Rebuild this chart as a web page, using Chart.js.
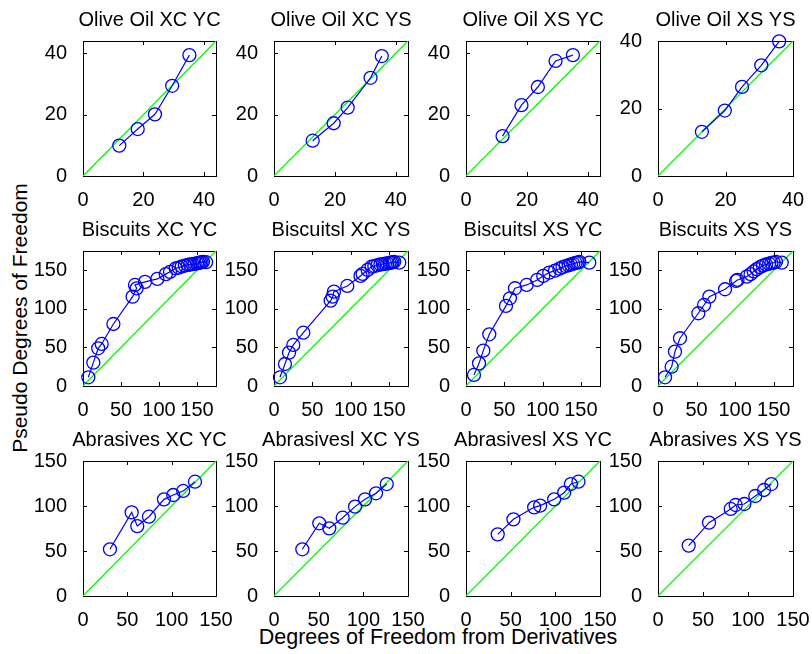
<!DOCTYPE html>
<html>
<head>
<meta charset="utf-8">
<script src="https://cdn.jsdelivr.net/npm/chart.js@4.4.0/dist/chart.umd.min.js"></script>
<style>
  body { margin: 0; background: #fff; }
  #fig { position: relative; width: 812px; height: 654px; background: #fff; overflow: hidden; }
  #fig canvas { position: absolute; }
  .lbl { position: absolute; font-family: 'Liberation Sans', Arial, sans-serif; color: #000; white-space: nowrap; }
</style>
</head>
<body>
<div id="fig">
  <div class="lbl" id="ylab" style="font-size:21px">Pseudo Degrees of Freedom</div>
  <div class="lbl" id="xlab" style="font-size:21.5px">Degrees of Freedom from Derivatives</div>
</div>
<script>
// panel titles
var titles = [
  'Olive Oil XC YC', 'Olive Oil XC YS', 'Olive Oil XS YC', 'Olive Oil XS YS',
  'Biscuits XC YC', 'Biscuitsl XC YS', 'Biscuitsl XS YC', 'Biscuits XS YS',
  'Abrasives XC YC', 'Abrasivesl XC YS', 'Abrasivesl XS YC', 'Abrasives XS YS'
];

// tick labels
var oliveTicks = [0, 20, 40];
var biscTicks = [0, 50, 100, 150];
var abrTicks = [0, 50, 100, 150];

// olive oil
var oliveXCYC_x = [12.0, 18.1, 23.8, 29.5, 35.2];
var oliveXCYC_y = [9.9, 15.3, 20.1, 29.4, 39.4];
var oliveXCYS_x = [12.7, 19.6, 24.2, 31.7, 35.4];
var oliveXCYS_y = [11.5, 17.2, 22.3, 32.0, 39.1];
var oliveXSYC_x = [12.0, 18.2, 23.6, 29.4, 35.1];
var oliveXSYC_y = [13.0, 23.1, 29.0, 37.5, 39.4];
var oliveXSYS_x = [13.0, 19.8, 24.9, 30.6, 35.9];
var oliveXSYS_y = [13.1, 19.4, 26.4, 32.8, 39.9];

// biscuits
var biscXCYC_x = [7, 13.6, 20, 24.6, 40, 65.3, 70.6, 68.4, 81.6, 97.8, 109, 114.5, 122, 126, 130, 134, 138, 141, 144, 147, 150, 152, 154, 156, 158, 162];
var biscXCYC_y = [11.3, 30.3, 48.9, 54.5, 80.4, 115.8, 126.6, 131, 135, 138.8, 145, 148, 152.6, 153.5, 155, 156, 157, 157.5, 158, 158.5, 159, 159.5, 160, 160.5, 161, 160.5];
var biscXCYS_x = [7.8, 14.3, 19.6, 25.2, 38.3, 74, 76.6, 78.3, 95.7, 113, 115.8, 122.3, 127.5, 131, 135, 139, 142, 145, 148, 151, 153, 155, 157, 163.6];
var biscXCYS_y = [11.3, 28.5, 43.2, 53.2, 69.1, 110.6, 115.8, 122.3, 129.7, 142.7, 145.3, 150.5, 154.8, 155.5, 156.5, 157.5, 158, 158.5, 159, 159.5, 160, 160.5, 161, 160];
var biscXSYC_x = [10.4, 17, 22.6, 30.4, 52.2, 57.4, 64, 79.2, 93, 100.9, 108.7, 116.2, 122, 126, 130, 134, 137, 140, 143, 146, 148, 161];
var biscXSYC_y = [14.3, 29.4, 45.8, 67, 103.8, 113.7, 126.7, 131, 137.5, 142.7, 147, 149.6, 152, 154, 155.5, 156.5, 157.5, 158.5, 159.5, 160, 161, 160];
var biscXSYS_x = [9.1, 17.7, 22, 28.5, 52.3, 59.7, 66.6, 86.9, 101.2, 103, 115, 120, 124, 128, 132, 136, 140, 144, 147, 150, 153, 160.4];
var biscXSYS_y = [11.3, 25, 44.5, 61.9, 94.3, 105, 115.8, 125.4, 136.2, 137.5, 141.8, 145, 148.5, 151.5, 154, 156, 157.5, 158.5, 159.5, 160, 161, 160];

// abrasives
var abrXCYC_x = [30.4, 54.9, 61.2, 74.4, 91.3, 101.8, 113, 126.3];
var abrXCYC_y = [51.9, 92.9, 77.7, 88.1, 107.4, 112.2, 116.7, 127];
var abrXCYS_x = [31.7, 50.7, 61.9, 76.9, 90.7, 101.9, 114.2, 126.2];
var abrXCYS_y = [51.9, 80.8, 75.2, 87, 99.3, 107.4, 114.1, 124.4];
var abrXSYC_x = [35.5, 53.1, 76.3, 83, 98.7, 109.9, 117.4, 125.9];
var abrXSYC_y = [68.5, 85.2, 98.5, 100.4, 107.4, 114.8, 124.4, 127];
var abrXSYS_x = [34.1, 56.7, 80.8, 86.3, 95.9, 108.1, 117.8, 125.9];
var abrXSYS_y = [56, 81.5, 96.7, 101.1, 102.2, 111.1, 117.8, 124.4];

var panelX = [oliveXCYC_x, oliveXCYS_x, oliveXSYC_x, oliveXSYS_x, biscXCYC_x, biscXCYS_x, biscXSYC_x, biscXSYS_x, abrXCYC_x, abrXCYS_x, abrXSYC_x, abrXSYS_x];
var panelY = [oliveXCYC_y, oliveXCYS_y, oliveXSYC_y, oliveXSYS_y, biscXCYC_y, biscXCYS_y, biscXSYC_y, biscXSYS_y, abrXCYC_y, abrXCYS_y, abrXSYC_y, abrXSYS_y];
var panelMax = [44, 44, 44, 40, 175, 175, 175, 175, 150, 150, 150, 150];
var panelTicks = [oliveTicks, oliveTicks, oliveTicks, oliveTicks, biscTicks, biscTicks, biscTicks, biscTicks, abrTicks, abrTicks, abrTicks, abrTicks];

// where the axes boxes go
var colL = [83, 274, 466, 658];
var colW = [133, 134, 134, 135];
var rowT = [41, 251, 461];
var boxH = 135;
var padL = 50, padR = 24, padT = 40, padB = 30;

Chart.defaults.font.family = "'Liberation Sans', Arial, sans-serif";
Chart.defaults.font.size = 20;
Chart.defaults.color = '#000';

function matlabAxes(title) {
  return {
    id: 'matlabAxes',
    beforeDatasetsDraw: function (chart) {
      var ctx = chart.ctx, a = chart.chartArea;
      ctx.save();
      ctx.strokeStyle = '#000';
      ctx.lineWidth = 1;
      ctx.strokeRect(Math.round(a.left) + 0.5, Math.round(a.top) + 0.5, Math.round(a.right - a.left), Math.round(a.bottom - a.top));
      var len = 4;
      chart.scales.x.ticks.forEach(function (t) {
        var px = Math.round(chart.scales.x.getPixelForValue(t.value)) + 0.5;
        ctx.beginPath();
        ctx.moveTo(px, a.bottom); ctx.lineTo(px, a.bottom - len);
        ctx.moveTo(px, a.top); ctx.lineTo(px, a.top + len);
        ctx.stroke();
      });
      chart.scales.y.ticks.forEach(function (t) {
        var py = Math.round(chart.scales.y.getPixelForValue(t.value)) + 0.5;
        ctx.beginPath();
        ctx.moveTo(a.left, py); ctx.lineTo(a.left + len, py);
        ctx.moveTo(a.right, py); ctx.lineTo(a.right - len, py);
        ctx.stroke();
      });
      ctx.fillStyle = '#000';
      ctx.font = "20px 'Liberation Sans', Arial, sans-serif";
      ctx.textAlign = 'center';
      ctx.textBaseline = 'alphabetic';
      ctx.fillText(title, (a.left + a.right) / 2, a.top - 15);
      ctx.restore();
    }
  };
}

function makePanel(i) {
  var r = Math.floor(i / 4), c = i % 4;
  var w = padL + colW[c] + padR, h = padT + boxH + padB;
  var cv = document.createElement('canvas');
  cv.width = w; cv.height = h;
  cv.style.left = (colL[c] - padL) + 'px';
  cv.style.top = (rowT[r] - padT) + 'px';
  cv.style.width = w + 'px'; cv.style.height = h + 'px';
  document.getElementById('fig').appendChild(cv);

  var pts = panelX[i].map(function (x, k) { return { x: x, y: panelY[i][k] }; });
  var mx = panelMax[i], tk = panelTicks[i];

  new Chart(cv, {
    type: 'scatter',
    data: {
      datasets: [{
        data: pts,
        showLine: true,
        borderColor: '#0000ff',
        borderWidth: 1.2,
        pointRadius: 6.5,
        pointBorderWidth: 1.3,
        pointBorderColor: '#0000ff',
        pointBackgroundColor: 'rgba(0,0,0,0)',
        clip: false
      }, {
        data: [{ x: 0, y: 0 }, { x: mx, y: mx }],
        showLine: true,
        borderColor: '#00ff00',
        borderWidth: 1.3,
        pointRadius: 0
      }]
    },
    options: {
      responsive: false,
      devicePixelRatio: 1,
      animation: false,
      events: [],
      layout: { padding: { top: padT, right: padR, left: 0, bottom: 0 } },
      plugins: { legend: { display: false }, tooltip: { enabled: false } },
      scales: {
        x: {
          type: 'linear', min: 0, max: mx,
          grid: { display: false }, border: { display: false },
          ticks: { padding: 4, autoSkip: false, maxRotation: 0 },
          afterBuildTicks: function (s) { s.ticks = tk.map(function (v) { return { value: v }; }); },
          afterFit: function (s) { s.height = padB; }
        },
        y: {
          type: 'linear', min: 0, max: mx,
          grid: { display: false }, border: { display: false },
          ticks: { padding: 8, autoSkip: false },
          afterBuildTicks: function (s) { s.ticks = tk.map(function (v) { return { value: v }; }); },
          afterFit: function (s) { s.width = padL; }
        }
      }
    },
    plugins: [matlabAxes(titles[i])]
  });
}

for (var i = 0; i < 12; i++) makePanel(i);

// shared axis labels
var yl = document.getElementById('ylab');
yl.style.left = '20px';
yl.style.top = '318px';
yl.style.transform = 'translate(-50%, -50%) rotate(-90deg)';
var xl = document.getElementById('xlab');
xl.style.left = '438px';
xl.style.top = '637px';
xl.style.transform = 'translate(-50%, -50%)';
</script>
</body>
</html>
